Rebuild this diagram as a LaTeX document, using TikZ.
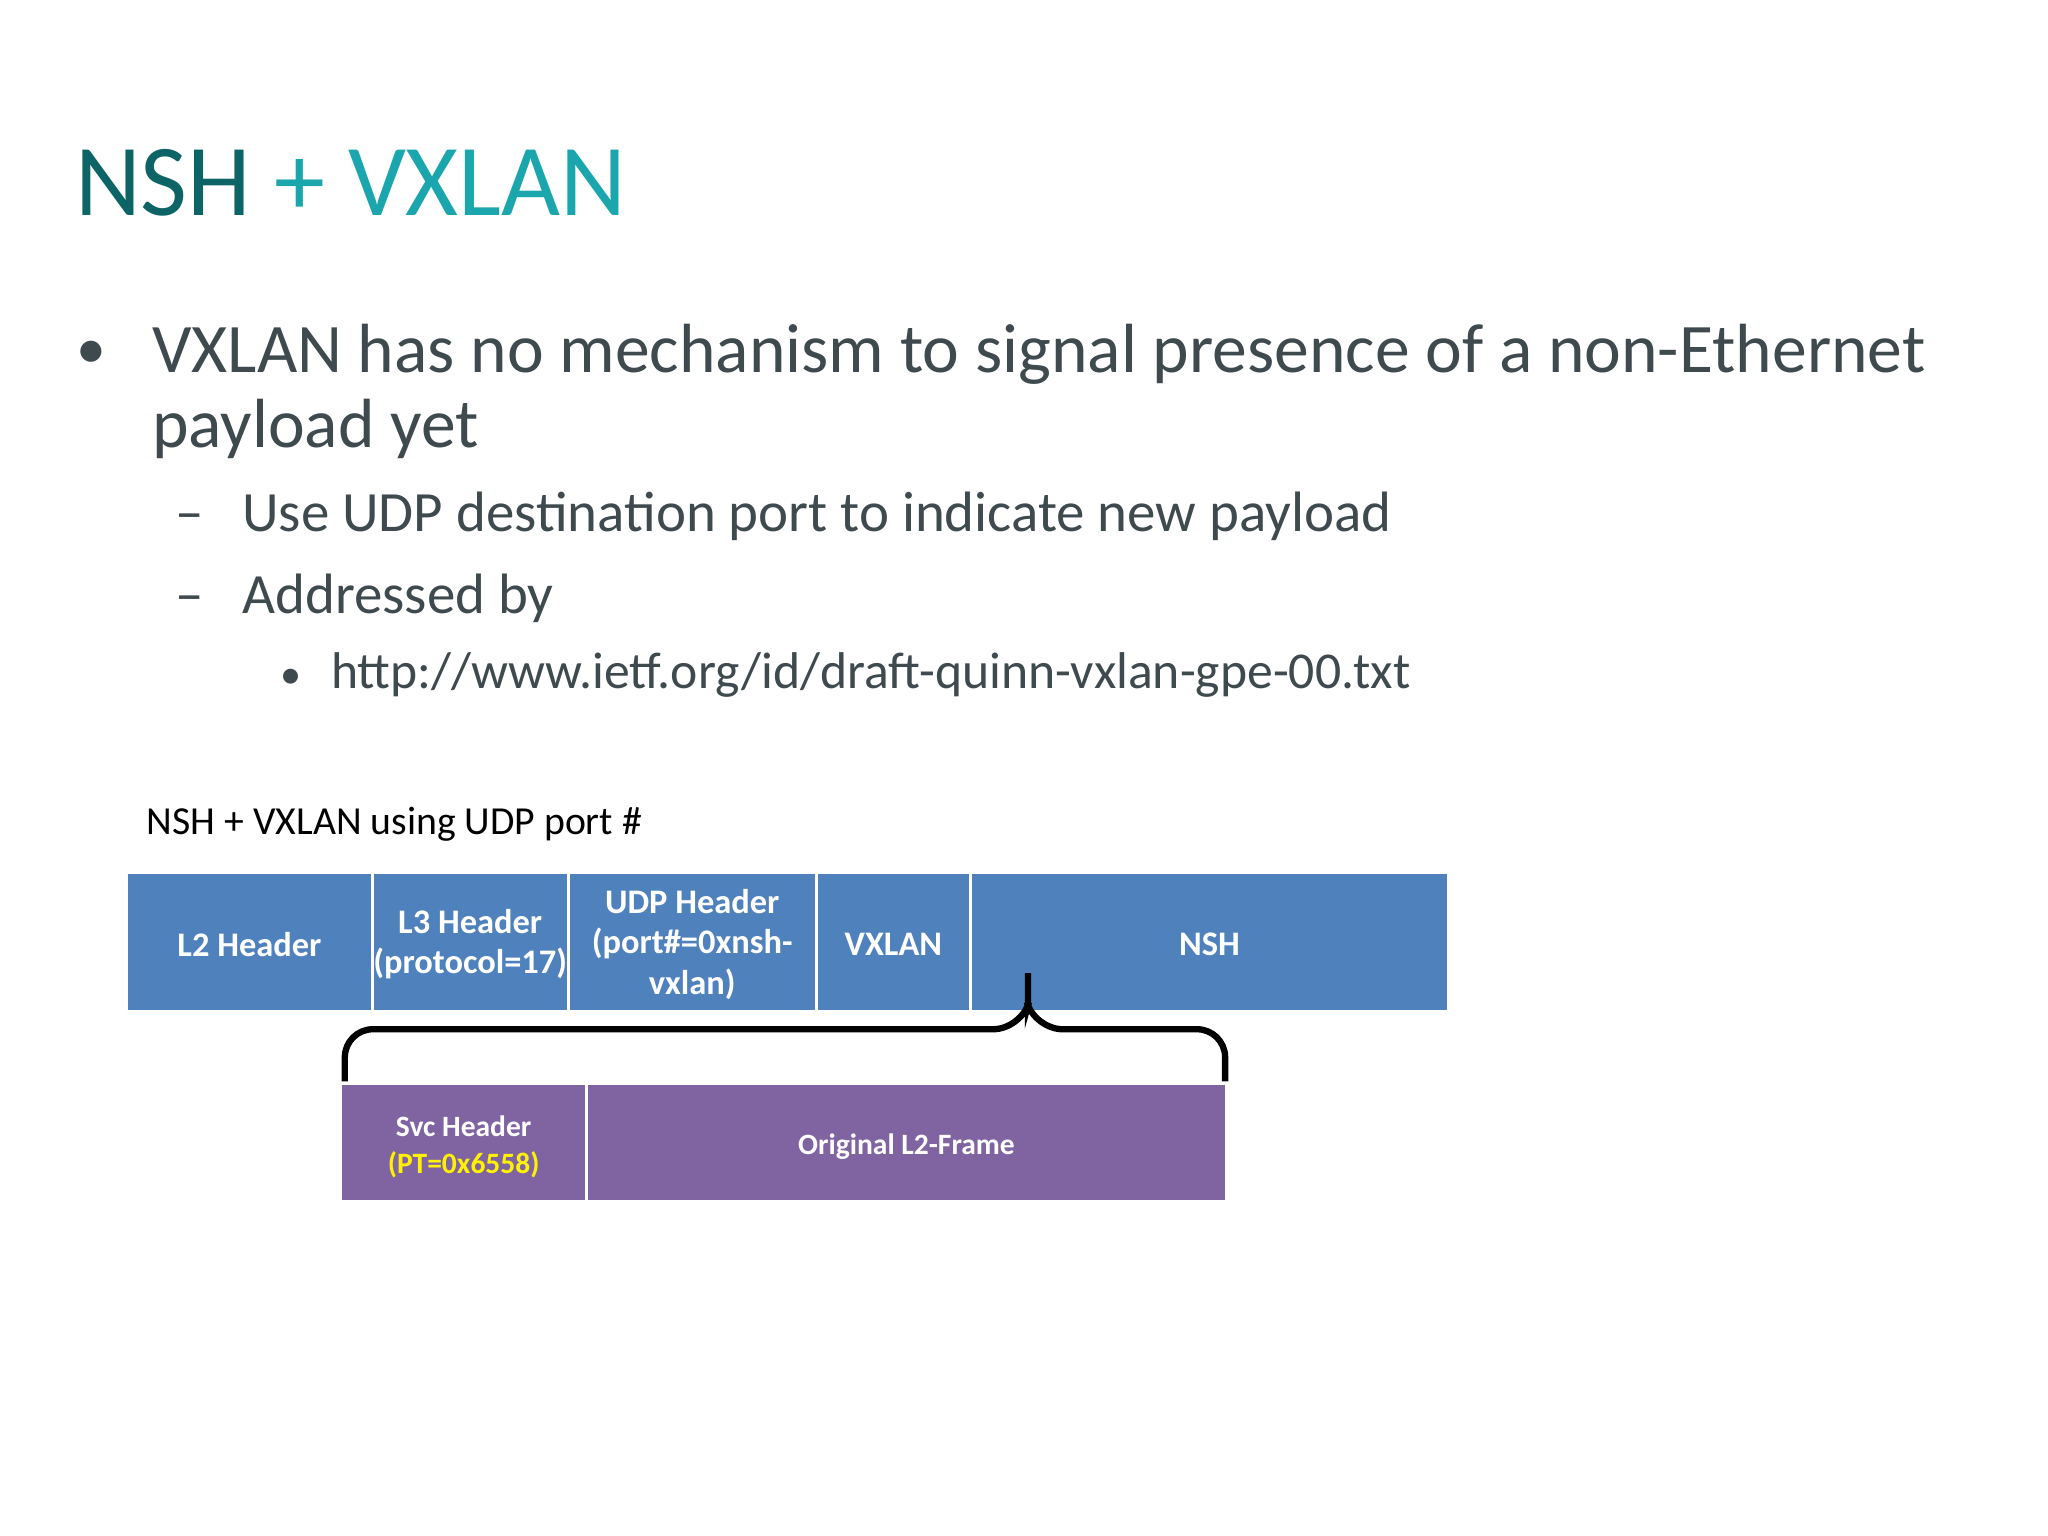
\documentclass[tikz,border=0pt]{standalone}
\usepackage{fontspec}
\setmainfont{Carlito}
\definecolor{tdark}{HTML}{0D6466}
\definecolor{tlight}{HTML}{1BA6AE}
\definecolor{txt}{HTML}{3F4A4F}
\definecolor{bblue}{HTML}{4F81BD}
\definecolor{bpurp}{HTML}{8064A2}
\begin{document}
\begin{tikzpicture}[x=0.01306cm,y=-0.01306cm,
  blk/.style={draw=white,line width=0.8pt,fill=bblue,text=white,font=\bfseries\fontsize{9.8}{11.5}\selectfont,align=center,inner sep=0pt},
  pblk/.style={draw=white,line width=0.8pt,fill=bpurp,text=white,font=\bfseries\fontsize{8.4}{10.5}\selectfont,align=center,inner sep=0pt},
  lbl/.style={anchor=base west,inner sep=0pt,text=txt}]
\useasboundingbox (0,0) rectangle (1568,1176);
\fill[white] (0,0) rectangle (1568,1176);
\node[anchor=base west,inner sep=0pt,font=\fontsize{29}{33}\selectfont] (title) at (57,165) {\textcolor{tdark}{NSH} \textcolor{tlight}{+ VXLAN}};
\node[lbl,font=\fontsize{17}{20}\selectfont] (b1) at (58,282) {•};
\node[lbl,font=\fontsize{19.8}{24}\selectfont] (t1) at (116,285) {VXLAN has no mechanism to signal presence of a non-Ethernet};
\node[lbl,font=\fontsize{19.8}{24}\selectfont] (t1b) at (116,343) {payload yet};
\node[lbl,font=\fontsize{16.2}{20}\selectfont] (d1) at (134,407) {–};
\node[lbl,font=\fontsize{16.2}{20}\selectfont] (t2) at (185,407) {Use UDP destination port to indicate new payload};
\node[lbl,font=\fontsize{16.2}{20}\selectfont] (d2) at (134,470) {–};
\node[lbl,font=\fontsize{16.2}{20}\selectfont] (t3) at (185,470) {Addressed by};
\node[lbl,font=\fontsize{12}{15}\selectfont] (b3) at (214,527) {•};
\node[lbl,font=\fontsize{14.7}{18}\selectfont] (t4) at (253,527) {http://www.ietf.org/id/draft-quinn-vxlan-gpe-00.txt};
\node[anchor=base west,inner sep=0pt,font=\fontsize{11.3}{14}\selectfont] (cap) at (112,639) {NSH + VXLAN using UDP port \#};
\path[blk] (97,668) rectangle (285,774);
\node[blk,fill=none,draw=none] (l2) at (191,723) {L2 Header};
\path[blk] (285,668) rectangle (435,774);
\node[blk,fill=none,draw=none] (l3) at (360,723) {L3 Header\\(protocol=17)};
\path[blk] (435,668) rectangle (625,774);
\node[blk,fill=none,draw=none] (udp) at (530,723) {UDP Header\\(port\#=0xnsh-\\vxlan)};
\path[blk] (625,668) rectangle (743,774);
\node[blk,fill=none,draw=none] (vx) at (684,723) {VXLAN};
\path[blk] (743,668) rectangle (1109,774);
\node[blk,fill=none,draw=none] (nsh) at (926,723) {NSH};
\path[pblk] (261,830) rectangle (449,920);
\node[pblk,fill=none,draw=none] (svc) at (355,878) {Svc Header\\\textcolor{yellow}{(PT=0x6558)}};
\path[pblk] (449,830) rectangle (939,920);
\node[pblk,fill=none,draw=none] (orig) at (694,878) {Original L2-Frame};
\coordinate (bl) at (264,828);
\coordinate (br) at (938,828);
\coordinate (tip) at (787,745);
\draw[line width=1.8pt,rounded corners=8] (bl) -- (264,788) -- (782,788) [sharp corners]-- (787,770) -- (tip);
\draw[line width=1.8pt,rounded corners=8] (br) -- (938,788) -- (792,788) [sharp corners]-- (787,770);
\end{tikzpicture}
\end{document}
